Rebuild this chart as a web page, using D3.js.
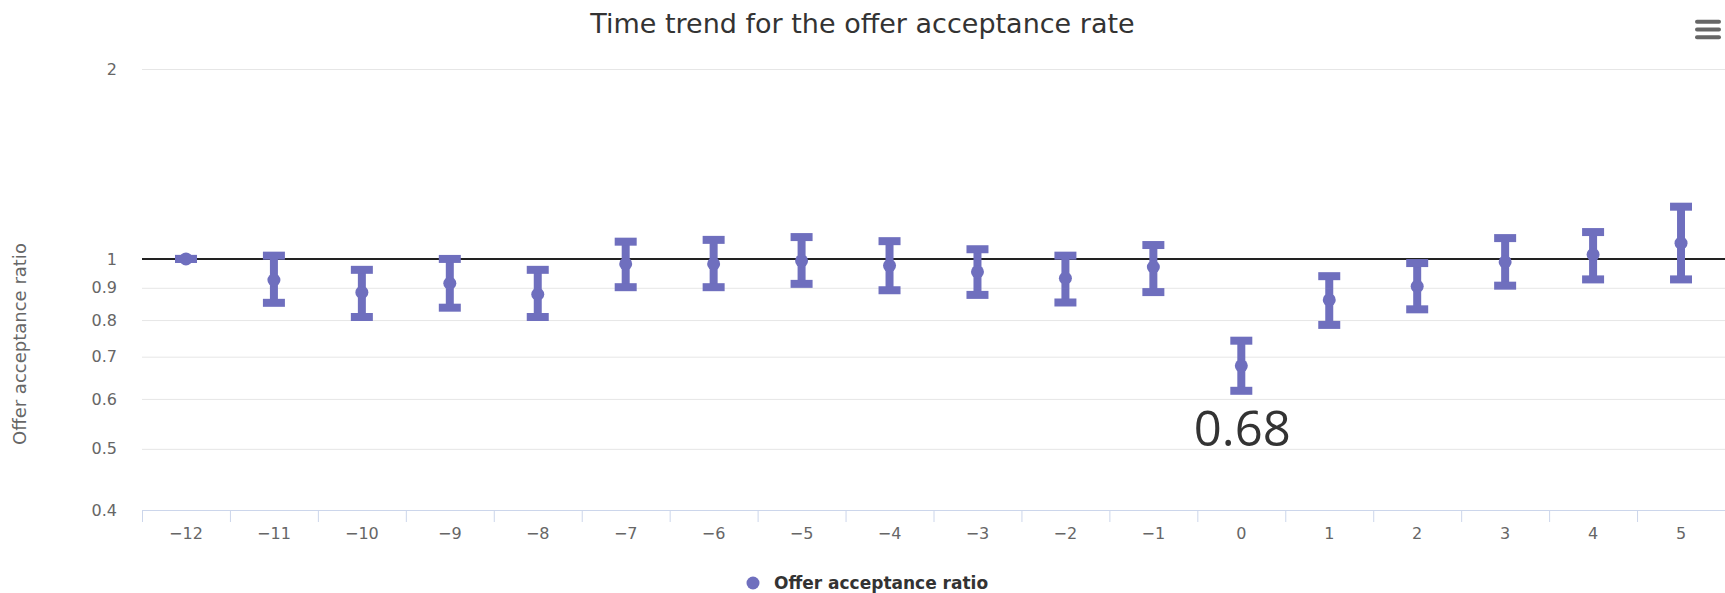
<!DOCTYPE html>
<html><head><meta charset="utf-8">
<script src="https://cdn.jsdelivr.net/npm/d3@7"></script>
<style>html,body{margin:0;padding:0;background:#fff;} svg{display:block;}</style>
</head><body>
<svg id="chart" width="1725" height="593"></svg>
<script>
const categories = [-12,-11,-10,-9,-8,-7,-6,-5,-4,-3,-2,-1,0,1,2,3,4,5];
const ratioValues = [1.0,0.926,0.885,0.915,0.879,0.982,0.982,0.993,0.976,0.954,0.932,0.971,0.677,0.861,0.905,0.989,1.016,1.059];
const lowValues   = [1.0,0.852,0.809,0.837,0.809,0.902,0.902,0.913,0.892,0.877,0.853,0.886,0.618,0.786,0.832,0.907,0.928,0.928];
const highValues  = [1.0,1.012,0.961,1.0,0.961,1.065,1.072,1.083,1.067,1.036,1.012,1.052,0.742,0.939,0.985,1.079,1.103,1.21];
const yTickValues = [0.4,0.5,0.6,0.7,0.8,0.9,1,2];
const yDomain = [0.4, 2];
const referenceValue = 1;
const highlightCategory = 0;
const titleText = "Time trend for the offer acceptance rate";
const yAxisTitle = "Offer acceptance ratio";
const seriesName = "Offer acceptance ratio";

const W = 1725, H = 593;
const plot = {left: 142, right: 1725, top: 69, bottom: 510};
const color = "#6f6fbe";
const font = "'DejaVu Sans', sans-serif";

const svg = d3.select("#chart");
const data = categories.map((c, i) => ({c, v: ratioValues[i], lo: lowValues[i], hi: highValues[i]}));

const x = d3.scaleBand().domain(categories).range([plot.left, plot.right]).padding(0);
const y = d3.scaleLog().domain(yDomain).range([plot.bottom, plot.top]);

// Title
svg.append("text").attr("x", W/2).attr("y", 33).attr("text-anchor", "middle")
  .attr("font-family", font).attr("font-size", 27).attr("fill", "#333333").text(titleText);

// Hamburger menu icon
const menuG = svg.append("g").attr("stroke", "#666666").attr("stroke-width", 4).attr("stroke-linecap", "round");
[21.8, 29.5, 37.2].forEach(yy => menuG.append("line").attr("x1", 1697).attr("x2", 1719).attr("y1", yy).attr("y2", yy));

// Y axis with gridlines
const yAxis = d3.axisLeft(y).tickValues(yTickValues).tickFormat(d => String(d))
  .tickSizeInner(-(plot.right - plot.left)).tickSizeOuter(0).tickPadding(25);
const yG = svg.append("g").attr("transform", `translate(${plot.left},0)`).call(yAxis);
yG.select(".domain").remove();
yG.selectAll(".tick line").attr("stroke", "#e6e6e6").attr("stroke-width", 1);
yG.selectAll(".tick text").attr("font-family", font).attr("font-size", 16).attr("fill", "#666666");

// Y axis title
svg.append("text").attr("transform", "translate(26,344) rotate(-90)").attr("text-anchor", "middle")
  .attr("font-family", font).attr("font-size", 18).attr("fill", "#666666").text(yAxisTitle);

// Reference line at 1
svg.append("line").attr("x1", plot.left).attr("x2", plot.right)
  .attr("y1", y(referenceValue)).attr("y2", y(referenceValue))
  .attr("stroke", "#222222").attr("stroke-width", 2);

// X axis
const xAxis = d3.axisBottom(x).tickSize(0).tickPadding(17.5)
  .tickFormat(d => d < 0 ? "\u2212" + Math.abs(d) : String(d));
const xG = svg.append("g").attr("transform", `translate(0,${plot.bottom})`).call(xAxis);
xG.select(".domain").remove();
xG.selectAll(".tick text").attr("font-family", font).attr("font-size", 16).attr("fill", "#666666");
// boundary ticks
const bounds = categories.map(c => x(c)).concat([x.range()[1]]);
svg.append("g").selectAll("line").data(bounds).join("line")
  .attr("x1", d => d + 0.5).attr("x2", d => d + 0.5)
  .attr("y1", plot.bottom).attr("y2", plot.bottom + 12)
  .attr("stroke", "#ccd6eb").attr("stroke-width", 1);
svg.append("line").attr("x1", plot.left).attr("x2", plot.right)
  .attr("y1", plot.bottom + 0.5).attr("y2", plot.bottom + 0.5)
  .attr("stroke", "#ccd6eb").attr("stroke-width", 1);

// Error bars
const cx = d => x(d.c) + x.bandwidth() / 2;
const whisker = 22, stemW = 8, whiskerW = 8;
const eb = svg.append("g").attr("stroke", color);
eb.selectAll("line.stem").data(data).join("line").attr("class", "stem")
  .attr("x1", cx).attr("x2", cx).attr("y1", d => y(d.hi)).attr("y2", d => y(d.lo))
  .attr("stroke-width", stemW);
eb.selectAll("line.wh").data(data).join("line").attr("class", "wh")
  .attr("x1", d => cx(d) - whisker/2).attr("x2", d => cx(d) + whisker/2)
  .attr("y1", d => y(d.hi)).attr("y2", d => y(d.hi)).attr("stroke-width", whiskerW);
eb.selectAll("line.wl").data(data).join("line").attr("class", "wl")
  .attr("x1", d => cx(d) - whisker/2).attr("x2", d => cx(d) + whisker/2)
  .attr("y1", d => y(d.lo)).attr("y2", d => y(d.lo)).attr("stroke-width", whiskerW);

// Points
svg.append("g").selectAll("circle").data(data).join("circle")
  .attr("cx", cx).attr("cy", d => y(d.v)).attr("r", 6.5).attr("fill", color);

// Highlight label
const hl = data.find(d => d.c === highlightCategory);
svg.append("text").attr("x", cx(hl) + 1).attr("y", y(hl.lo) + 55).attr("text-anchor", "middle")
  .attr("font-family", "'Open Sans', sans-serif").attr("font-size", 49).attr("fill", "#333333")
  .text(d3.format(".2f")(hl.v));

// Legend
svg.append("circle").attr("cx", 753).attr("cy", 583).attr("r", 6.5).attr("fill", color);
svg.append("text").attr("x", 774).attr("y", 589).attr("font-family", font).attr("font-size", 17)
  .attr("font-weight", "bold").attr("fill", "#333333").text(seriesName);
</script>
</body></html>
